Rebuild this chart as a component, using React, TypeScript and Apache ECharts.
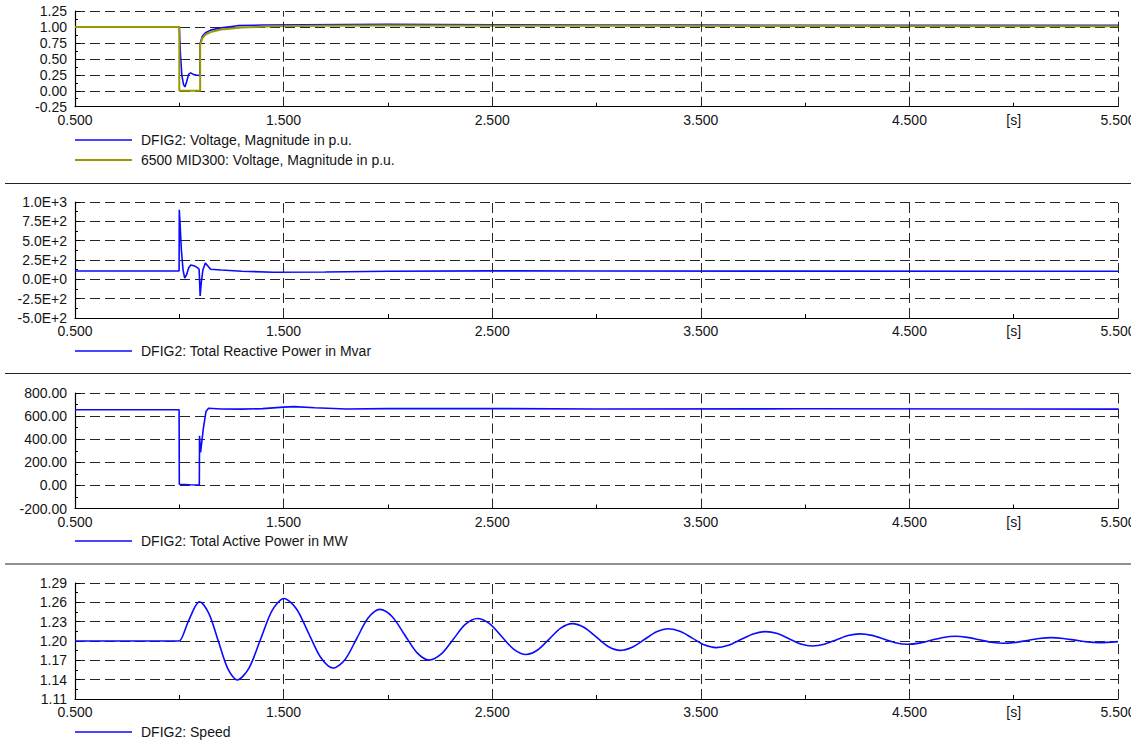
import React, { useEffect, useRef } from "react";
import * as echarts from "echarts";

// ---- Simulation results (time in s) ----

// DFIG2: Voltage, Magnitude in p.u.
const dfigVoltTime = [0.5, 1.0, 1.005, 1.012, 1.02, 1.027, 1.035, 1.045, 1.055, 1.065, 1.08, 1.098, 1.1, 1.11, 1.125, 1.15, 1.2, 1.28, 1.4, 1.6, 2.0, 2.5, 3.0, 3.5, 4.0, 4.5, 5.5];
const dfigVoltage = [1.0, 1.0, 0.6, 0.25, 0.1, 0.06, 0.14, 0.26, 0.28, 0.26, 0.245, 0.24, 0.74, 0.85, 0.91, 0.95, 0.985, 1.02, 1.03, 1.035, 1.04, 1.035, 1.03, 1.028, 1.026, 1.025, 1.024];

// 6500 MID300: Voltage, Magnitude in p.u.
const busVoltTime = [0.5, 1.0, 1.0, 1.1, 1.1, 1.11, 1.125, 1.15, 1.2, 1.3, 1.45, 1.7, 2.0, 3.0, 4.0, 5.5];
const busVoltage = [1.0, 1.0, 0.0, 0.0, 0.72, 0.82, 0.88, 0.92, 0.96, 0.99, 1.01, 1.02, 1.022, 1.018, 1.014, 1.01];

// DFIG2: Total Reactive Power in Mvar
const reactiveTime = [0.5, 0.999, 1.0, 1.004, 1.01, 1.018, 1.026, 1.035, 1.045, 1.055, 1.07, 1.085, 1.095, 1.1, 1.105, 1.113, 1.125, 1.135, 1.15, 1.2, 1.3, 1.45, 1.7, 2.0, 2.5, 3.0, 4.0, 5.5];
const reactivePower = [108, 108, 900, 700, 380, 120, 15, 60, 150, 185, 175, 155, 130, -215, -50, 120, 210, 180, 130, 120, 105, 92, 95, 105, 110, 108, 106, 105];

// DFIG2: Total Active Power in MW
const activeTime = [0.5, 0.999, 1.0, 1.05, 1.096, 1.097, 1.102, 1.115, 1.128, 1.14, 1.2, 1.3, 1.4, 1.5, 1.55, 1.65, 1.8, 2.0, 2.5, 3.0, 4.0, 5.5];
const activePower = [655, 655, 10, 5, 3, 430, 285, 490, 640, 668, 662, 660, 665, 678, 682, 672, 662, 665, 665, 662, 663, 660];

// DFIG2: Speed (p.u.)
const speedTime = [
  0.5, 0.99, 1.0, 1.04, 1.07, 1.085, 1.096,
  1.1415, 1.187, 1.2325, 1.278,
  1.334, 1.39, 1.446, 1.502,
  1.561, 1.62, 1.679, 1.738,
  1.794, 1.85, 1.906, 1.962,
  2.021, 2.08, 2.139, 2.198,
  2.256, 2.3135, 2.371, 2.429,
  2.487, 2.5455, 2.604, 2.662,
  2.7175, 2.773, 2.8285, 2.884,
  2.941, 2.9985, 3.056, 3.113,
  3.171, 3.2295, 3.288, 3.346,
  3.403, 3.4595, 3.516, 3.573,
  3.6325, 3.692, 3.7515, 3.811,
  3.867, 3.923, 3.979, 4.035,
  4.092, 4.149, 4.206, 4.263,
  4.32, 4.3765, 4.433, 4.49,
  4.5475, 4.605, 4.6625, 4.72,
  4.7775, 4.835, 4.8925, 4.95,
  5.0075, 5.065, 5.1225, 5.18,
  5.2375, 5.295, 5.3525, 5.41,
  5.5,
];
const speed = [
  1.2, 1.2, 1.2, 1.228, 1.25, 1.258, 1.261,
  1.243, 1.2, 1.157, 1.1395,
  1.158, 1.203, 1.248, 1.266,
  1.25, 1.212, 1.174, 1.158,
  1.171, 1.2035, 1.236, 1.249,
  1.2377, 1.2098, 1.182, 1.1705,
  1.18, 1.2028, 1.2257, 1.235,
  1.2269, 1.207, 1.1871, 1.179,
  1.186, 1.203, 1.22, 1.227,
  1.221, 1.2063, 1.1915, 1.1855,
  1.1904, 1.2023, 1.2142, 1.219,
  1.2148, 1.2044, 1.194, 1.1897,
  1.1933, 1.2022, 1.211, 1.2146,
  1.2115, 1.2035, 1.1955, 1.1923,
  1.195, 1.2017, 1.2084, 1.211,
  1.2087, 1.203, 1.1973, 1.1949,
  1.1967, 1.2011, 1.2055, 1.2073,
  1.2056, 1.2018, 1.198, 1.1964,
  1.1977, 1.2008, 1.2039, 1.2052,
  1.204, 1.2013, 1.1986, 1.1975,
  1.199,
];

// Time axis: labelled at the half seconds, dashed grid at those times
const timeGridLines = [1.5, 2.5, 3.5, 4.5, 5.5];
const timeUnit = "[s]";

const zip = (t: number[], v: number[]) => t.map((x, i) => [x, v[i]]);

const FONT = "'Liberation Sans', Arial, sans-serif";
const TEXT = "#141414";
const BLUE = "#0a0aff";
const OLIVE = "#999900";
const GRIDC = "#262626";
const DASH = [10, 5];

const grids = [
  { top: 11, height: 95.7 },
  { top: 202, height: 116 },
  { top: 393, height: 115.5 },
  { top: 583, height: 116 },
];

const yScales = [
  { min: -0.25, max: 1.25, interval: 0.25, fmt: (v: number) => v.toFixed(2) },
  { min: -500, max: 1000, interval: 250, fmt: (v: number) => v.toExponential(1).toUpperCase() },
  { min: -200, max: 800, interval: 200, fmt: (v: number) => v.toFixed(2) },
  { min: 1.11, max: 1.29, interval: 0.03, fmt: (v: number) => v.toFixed(2) },
];

const legends = [
  [
    { name: "DFIG2: Voltage, Magnitude in p.u.", color: BLUE, width: 1.6, y: 140 },
    { name: "6500 MID300: Voltage, Magnitude in p.u.", color: OLIVE, width: 2, y: 160 },
  ],
  [{ name: "DFIG2: Total Reactive Power in Mvar", color: BLUE, width: 1.6, y: 351 }],
  [{ name: "DFIG2: Total Active Power in MW", color: BLUE, width: 1.6, y: 541 }],
  [{ name: "DFIG2: Speed", color: BLUE, width: 1.6, y: 732 }],
];

const separators = [183.5, 373.5, 564];

function timeLabel(v: number): string {
  if (Math.abs(v - 5) < 1e-6) return timeUnit;
  const r = Math.abs(((v - 0.5) % 1 + 1) % 1);
  if (r < 1e-6 || Math.abs(r - 1) < 1e-6) return v.toFixed(3);
  return "";
}

function buildOption() {
  const grid = grids.map((g) => ({
    left: 75,
    width: 1043,
    top: g.top,
    height: g.height,
    containLabel: false,
    outerBoundsMode: "none",
  }));

  const xAxis = grids.map((_, i) => ({
    type: "value",
    gridIndex: i,
    min: 0.5,
    max: 5.5,
    interval: 0.5,
    axisLine: { show: true, onZero: false, lineStyle: { color: "#000", width: 1.2 } },
    axisTick: { show: true, inside: true, length: 4, lineStyle: { color: "#000" } },
    axisLabel: {
      show: true,
      margin: 6,
      color: TEXT,
      fontFamily: FONT,
      fontSize: 14,
      formatter: timeLabel,
      showMinLabel: true,
      showMaxLabel: true,
      hideOverlap: false,
    },
    splitLine: { show: false },
  }));

  const yAxis = yScales.map((s, i) => ({
    type: "value",
    gridIndex: i,
    min: s.min,
    max: s.max,
    interval: s.interval,
    axisLine: { show: true, onZero: false, lineStyle: { color: "#000", width: 1.2 } },
    axisTick: { show: true, inside: true, length: 5, lineStyle: { color: "#000" } },
    minorTick: { show: true, splitNumber: 2, length: 3, lineStyle: { color: "#000" } },
    axisLabel: { margin: 8, color: TEXT, fontFamily: FONT, fontSize: 14, formatter: s.fmt },
    splitLine: { show: true, lineStyle: { color: GRIDC, width: 1, type: DASH } },
  }));

  const timeMarks = () => ({
    silent: true,
    symbol: ["none", "none"],
    label: { show: false },
    lineStyle: { color: GRIDC, width: 1, type: DASH },
    data: timeGridLines.map((t) => ({ xAxis: t })),
    animation: false,
  });

  const lineBase = { type: "line", showSymbol: false, symbol: "none", animation: false };

  const series = [
    {
      ...lineBase,
      name: legends[0][0].name,
      xAxisIndex: 0,
      yAxisIndex: 0,
      data: zip(dfigVoltTime, dfigVoltage),
      lineStyle: { color: BLUE, width: 1.6 },
      markLine: timeMarks(),
    },
    {
      ...lineBase,
      name: legends[0][1].name,
      xAxisIndex: 0,
      yAxisIndex: 0,
      data: zip(busVoltTime, busVoltage),
      lineStyle: { color: OLIVE, width: 2 },
    },
    {
      ...lineBase,
      name: legends[1][0].name,
      xAxisIndex: 1,
      yAxisIndex: 1,
      data: zip(reactiveTime, reactivePower),
      lineStyle: { color: BLUE, width: 1.6 },
      markLine: timeMarks(),
    },
    {
      ...lineBase,
      name: legends[2][0].name,
      xAxisIndex: 2,
      yAxisIndex: 2,
      data: zip(activeTime, activePower),
      lineStyle: { color: BLUE, width: 1.6 },
      markLine: timeMarks(),
    },
    {
      ...lineBase,
      name: legends[3][0].name,
      xAxisIndex: 3,
      yAxisIndex: 3,
      data: zip(speedTime, speed),
      smooth: 0.3,
      lineStyle: { color: BLUE, width: 1.6 },
      markLine: timeMarks(),
    },
  ];

  const graphic: any[] = [];
  legends.flat().forEach((l) => {
    graphic.push({
      type: "line",
      silent: true,
      shape: { x1: 75, y1: l.y, x2: 132, y2: l.y },
      style: { stroke: l.color, lineWidth: l.width },
    });
    graphic.push({
      type: "text",
      silent: true,
      x: 141,
      y: l.y,
      style: {
        text: l.name,
        fill: TEXT,
        font: `14px ${FONT}`,
        verticalAlign: "middle",
        align: "left",
      },
    });
  });
  separators.forEach((y) => {
    graphic.push({
      type: "line",
      silent: true,
      shape: { x1: 5, y1: y, x2: 1131, y2: y },
      style: { stroke: "#222", lineWidth: 1.2 },
    });
  });

  return {
    animation: false,
    backgroundColor: "#ffffff",
    grid,
    xAxis,
    yAxis,
    series,
    graphic,
  };
}

export default function App() {
  const ref = useRef<HTMLDivElement>(null);

  useEffect(() => {
    if (!ref.current) return;
    const chart = echarts.init(ref.current, undefined, { renderer: "svg" });
    chart.setOption(buildOption() as any);
    return () => chart.dispose();
  }, []);

  return (
    <div
      ref={ref}
      style={{ position: "absolute", left: 0, top: 0, width: 1131, height: 742, background: "#fff" }}
    />
  );
}
